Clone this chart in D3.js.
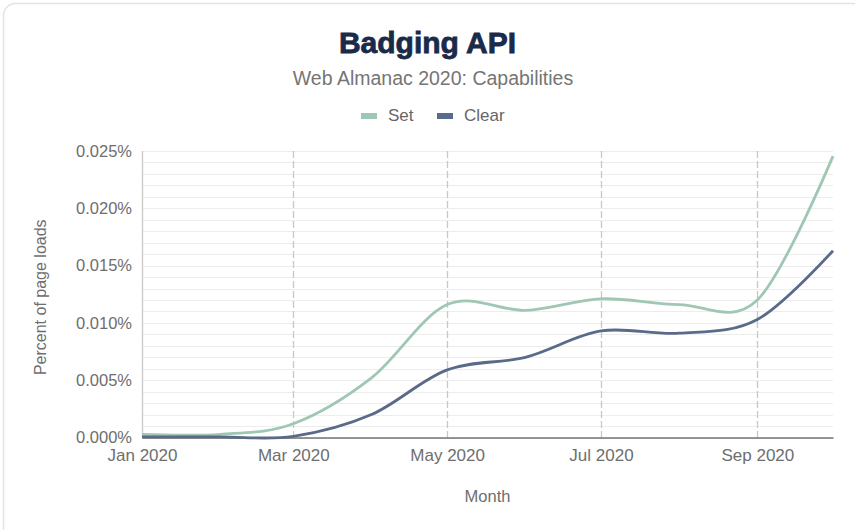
<!DOCTYPE html>
<html><head><meta charset="utf-8">
<script src="https://cdn.jsdelivr.net/npm/d3@7"></script>
<style>body{margin:0;background:#fff;}svg{display:block;font-family:"Liberation Sans",Arial,sans-serif;}</style>
</head><body>
<svg id="c" width="855" height="530"></svg>
<script>
const months = ["2020-01-01","2020-02-01","2020-03-01","2020-04-01","2020-05-01","2020-06-01","2020-07-01","2020-08-01","2020-09-01","2020-10-01"];
const setValues   = [0.00026, 0.00028, 0.0012, 0.0052, 0.0116, 0.0111, 0.0121, 0.0116, 0.0120, 0.02455];
const clearValues = [0.00005, 0.00005, 0.0001, 0.0020, 0.0059, 0.0070, 0.0093, 0.0091, 0.0103, 0.0163];
const yTicks = [0, 0.005, 0.010, 0.015, 0.020, 0.025];
const xTickMonths = ["2020-01-01","2020-03-01","2020-05-01","2020-07-01","2020-09-01"];
const seriesNames = ["Set","Clear"];
const colors = ["#9fc7b3","#5a6a89"];

const parse = d3.utcParse("%Y-%m-%d");
const dates = months.map(parse);
const svg = d3.select("#c");
const L=142, R=833, T=151, B=437.5;
const grey = "#6e6e6e";

svg.append("rect").attr("x",3.5).attr("y",3.5).attr("width",870).attr("height",560).attr("rx",12)
  .attr("fill","#fff").attr("stroke","#e3e3e3").attr("stroke-width",1.5);

const x = d3.scaleUtc().domain([dates[0], dates[dates.length-1]]).range([L,R]);
const y = d3.scaleLinear().domain([0,0.025]).range([B,T]);

// horizontal grid (minor every 0.001)
const minor = d3.range(0,0.0251,0.001);
svg.append("g").selectAll("line").data(minor).join("line")
  .attr("x1",L).attr("x2",R).attr("y1",d=>Math.round(y(d))+0.5).attr("y2",d=>Math.round(y(d))+0.5)
  .attr("stroke","#ededed").attr("stroke-width",1);

// vertical grid
svg.append("g").selectAll("line").data(xTickMonths.map(parse)).join("line")
  .attr("x1",d=>Math.round(x(d))+0.5).attr("x2",d=>Math.round(x(d))+0.5).attr("y1",T).attr("y2",B)
  .attr("stroke","#c8c8c8").attr("stroke-width",1.3)
  .attr("stroke-dasharray",(d,i)=>i===0?null:"7,3");

// y axis labels
const yAxis = d3.axisLeft(y).tickValues(yTicks).tickSize(0).tickPadding(10)
  .tickFormat(d=>d3.format(".3f")(d)+"%");
const gy = svg.append("g").attr("transform",`translate(${L},0)`).call(yAxis);
gy.select(".domain").remove();
gy.selectAll("text").attr("font-size",16.5).attr("fill",grey).attr("font-family","Liberation Sans, Arial, sans-serif");

// x axis
const xAxis = d3.axisBottom(x).tickValues(xTickMonths.map(parse)).tickSize(0).tickPadding(11)
  .tickFormat(d3.utcFormat("%b %Y"));
const gx = svg.append("g").attr("transform",`translate(0,${B})`).call(xAxis);
gx.select(".domain").attr("stroke","#333").attr("stroke-width",1.2);
gx.selectAll("text").attr("font-size",17).attr("fill",grey).attr("font-family","Liberation Sans, Arial, sans-serif");

// lines
const line = d3.line().x((d,i)=>x(dates[i])).y(d=>y(d)).curve(d3.curveCardinal.tension(0));
[setValues, clearValues].forEach((vals,k)=>{
  svg.append("path").datum(vals).attr("d",line).attr("fill","none")
    .attr("stroke",colors[k]).attr("stroke-width",2.8).attr("stroke-linejoin","round");
});

// titles
svg.append("text").attr("x",427.5).attr("y",53).attr("text-anchor","middle")
  .attr("font-size",30).attr("font-weight","bold").attr("fill","#1a2a4a")
  .attr("stroke","#1a2a4a").attr("stroke-width",0.8).text("Badging API");
svg.append("text").attr("x",433).attr("y",85).attr("text-anchor","middle")
  .attr("font-size",19.5).attr("fill","#757575").text("Web Almanac 2020: Capabilities");

// legend
const legX = [361, 437];
seriesNames.forEach((n,k)=>{
  svg.append("rect").attr("x",legX[k]).attr("y",113).attr("width",16).attr("height",6).attr("fill",colors[k]);
  svg.append("text").attr("x",legX[k]+27).attr("y",121).attr("font-size",17).attr("fill","#666").text(n);
});

// axis titles
svg.append("text").attr("x",(L+R)/2).attr("y",502).attr("text-anchor","middle")
  .attr("font-size",16.5).attr("fill",grey).text("Month");
svg.append("text").attr("transform",`translate(46,${(T+B)/2+3}) rotate(-90)`).attr("text-anchor","middle")
  .attr("font-size",16).attr("fill",grey).text("Percent of page loads");
</script>
</body></html>
